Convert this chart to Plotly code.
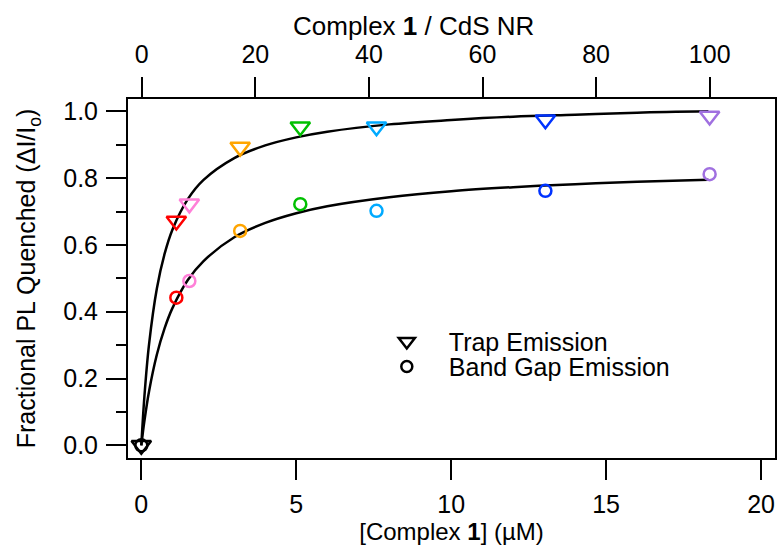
import plotly.graph_objects as go

# Data
conc_um = [0, 1.13, 1.55, 3.19, 5.13, 7.59, 13.04, 18.34]
trap_y = [0.0, 0.672, 0.723, 0.893, 0.954, 0.954, 0.975, 0.986]
band_y = [0.0, 0.442, 0.492, 0.642, 0.722, 0.702, 0.762, 0.812]
point_colors = ["#000000", "#FF0000", "#FF80D8", "#FFA500", "#00C000",
                "#00AAFF", "#0033FF", "#A070E0"]

# Fit curves
fit_x = [0, 0.1, 0.25, 0.5, 0.75, 1.0, 1.5, 2, 3, 4, 5, 6, 8, 10, 12, 14, 16, 18.3]
trap_fit = [0, 0.147, 0.303, 0.469, 0.573, 0.645, 0.737, 0.794, 0.860, 0.898,
            0.922, 0.939, 0.961, 0.974, 0.984, 0.990, 0.996, 1.000]
band_fit = [0, 0.073, 0.162, 0.271, 0.350, 0.410, 0.495, 0.551, 0.623, 0.666,
            0.695, 0.716, 0.743, 0.761, 0.773, 0.782, 0.789, 0.795]

top_ticks = [0, 20, 40, 60, 80, 100]
bottom_ticks = [0, 5, 10, 15, 20]
y_ticks = [0.0, 0.2, 0.4, 0.6, 0.8, 1.0]

FONT = "Liberation Sans, Arial, sans-serif"
TICK = 25

fig = go.Figure()

fig.add_trace(go.Scatter(x=fit_x, y=trap_fit, mode="lines", line=dict(color="black", width=2.5, shape="spline"),
                         showlegend=False, hoverinfo="skip"))
fig.add_trace(go.Scatter(x=fit_x, y=band_fit, mode="lines", line=dict(color="black", width=2.5, shape="spline"),
                         showlegend=False, hoverinfo="skip"))

fig.add_trace(go.Scatter(x=conc_um, y=band_y, mode="markers", showlegend=False,
                         marker=dict(symbol="circle-open", size=12, color=point_colors,
                                     line=dict(width=2.5, color=point_colors))))
fig.add_trace(go.Scatter(x=conc_um, y=trap_y, mode="markers", showlegend=False,
                         marker=dict(symbol="triangle-down-open", size=17, color=point_colors,
                                     line=dict(width=2.5, color=point_colors))))

# legend entries
fig.add_trace(go.Scatter(x=[None], y=[None], mode="markers", name="Trap Emission", legend="legend",
                         marker=dict(symbol="triangle-down-open", size=14, color="black",
                                     line=dict(width=2.5, color="black"))))
fig.add_trace(go.Scatter(x=[None], y=[None], mode="markers", name="Band Gap Emission", legend="legend2",
                         marker=dict(symbol="circle-open", size=11, color="black",
                                     line=dict(width=2.5, color="black"))))

# empty trace for top axis
fig.add_trace(go.Scatter(x=[None], y=[None], xaxis="x2", showlegend=False, hoverinfo="skip"))

leg_common = dict(xanchor="left", yanchor="middle", bgcolor="rgba(0,0,0,0)",
                  font=dict(size=25), itemwidth=74, borderwidth=0)

fig.update_layout(
    width=780, height=548,
    margin=dict(l=128, r=3, t=99, b=90),
    paper_bgcolor="white", plot_bgcolor="white",
    font=dict(family=FONT, size=TICK, color="black"),
    xaxis=dict(range=[-0.43, 20.45], tickvals=bottom_ticks, ticks="outside", ticklen=20, tickwidth=2,
               tickcolor="black", showline=True, linewidth=2, linecolor="black", showgrid=False,
               zeroline=False, tickfont=dict(size=TICK), ticklabelstandoff=3,
               title=dict(text="[Complex <b>1</b>] (µM)", font=dict(size=24), standoff=0)),
    xaxis2=dict(range=[-2.42, 111.5], tickvals=top_ticks, overlaying="x", side="top", anchor="y",
                ticks="outside", ticklen=20, tickwidth=2, tickcolor="black", showline=True,
                linewidth=2, linecolor="black", showgrid=False, zeroline=False, tickfont=dict(size=TICK),
                ticklabelstandoff=4),
    yaxis=dict(range=[-0.038, 1.037], tickvals=y_ticks, tickformat=".1f", ticks="outside", ticklen=20,
               tickwidth=2, tickcolor="black", showline=True, mirror=True, linewidth=2, linecolor="black",
               showgrid=False, zeroline=False, tickfont=dict(size=TICK), ticklabelstandoff=3,
               minor=dict(dtick=0.1, ticks="outside", ticklen=10, tickwidth=2, tickcolor="black", showgrid=False),
               title=dict(text="Fractional PL Quenched (ΔI/I<sub>o</sub>)", font=dict(size=25), standoff=20)),
    legend=dict(x=0.366, y=0.324, **leg_common),
    legend2=dict(x=0.366, y=0.254, **leg_common),
    annotations=[dict(text="Complex <b>1</b> / CdS NR", xref="paper", yref="paper",
                      x=0.442, y=1.203, xanchor="center", yanchor="middle", showarrow=False,
                      font=dict(size=26))],
)

fig.write_html("out.html")
